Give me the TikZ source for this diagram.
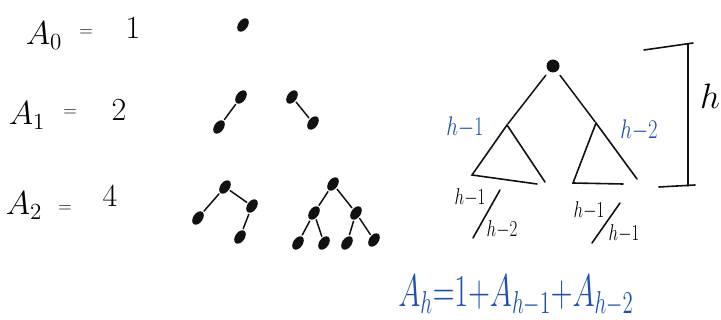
\documentclass[tikz,border=0pt]{standalone}
\usetikzlibrary{positioning,shapes.geometric}
\definecolor{ink}{HTML}{111111}
\definecolor{pen}{HTML}{1D4FB2}
\tikzset{dot/.style={ellipse,fill=ink,inner sep=0pt,minimum width=15pt,minimum height=9.5pt,rotate=55},
  link/.style={draw=ink,line width=1.5pt,line cap=round,shorten <=1.5pt,shorten >=1.5pt},
  stroke/.style={draw=ink,line width=1.6pt,line cap=round},
  big/.style={font=\huge,scale=1.6,inner sep=0pt,anchor=base},
  num/.style={font=\huge,scale=1.55,inner sep=0pt},
  mid/.style={font=\huge,xscale=1.0,yscale=1.3,inner sep=0pt},
  eqs/.style={font=\huge,scale=.9,inner sep=0pt},
  small/.style={font=\huge,xscale=.82,yscale=1.1,inner sep=0pt},
  blue/.style={text=pen}}

\begin{document}
\begin{tikzpicture}[x=1pt,y=-1pt]
\useasboundingbox (0,0) rectangle (721,320);
% left column: A_0, A_1, A_2
\node[big] (a0) at (44,45) {$A_0$};
\node[eqs] (e0) at (86,33) {$=$};
\node[num] (v0) at (133,28) {$1$};
\node[big] (a1) at (27,125) {$A_1$};
\node[eqs] (e1) at (70,113) {$=$};
\node[num] (v1) at (119,110) {$2$};
\node[big] (a2) at (24,215) {$A_2$};
\node[eqs] (e2) at (65,209) {$=$};
\node[num] (v2) at (110,196) {$4$};
% small trees
\node[dot] (t0) at (243,25) {};
\node[dot] (p1) at (241,97) {};
\node[dot] (p1l) at (219,127) {};
\node[dot] (q1) at (292,97) {};
\node[dot] (q1r) at (313,123) {};
\draw[link] (p1)--(p1l);\draw[link] (q1)--(q1r);
\node[dot] (p2) at (225,187) {};
\node[dot] (p2l) at (198,218) {};
\node[dot] (p2r) at (252,206) {};
\node[dot] (p2rl) at (240,237) {};
\draw[link] (p2)--(p2l);\draw[link] (p2)--(p2r);\draw[link] (p2r)--(p2rl);
\node[dot] (q2) at (333,184) {};
\node[dot] (q2l) at (314,213) {};
\node[dot] (q2r) at (356,213) {};
\node[dot] (q2ll) at (298,243) {};
\node[dot] (q2lr) at (324,243) {};
\node[dot] (q2rl) at (347,243) {};
\node[dot] (q2rr) at (374,240) {};
\draw[link] (q2)--(q2l);\draw[link] (q2)--(q2r);
\draw[link] (q2l)--(q2ll);\draw[link] (q2l)--(q2lr);
\draw[link] (q2r)--(q2rl);\draw[link] (q2r)--(q2rr);
% general tree
\node[circle,fill=ink,inner sep=0pt,minimum size=13pt] (root) at (553,66) {};
\coordinate (la) at (507,125);\coordinate (ll) at (472,175);\coordinate (lr) at (545,182);
\coordinate (ra) at (596,123);\coordinate (rl) at (573,183);\coordinate (rr) at (637,179);
\draw[link,shorten <=5pt] (root)--(la);\draw[link,shorten <=5pt] (root)--(ra);
\draw[stroke] (lr)--(la)--(ll)--(537,184);
\draw[stroke] (rr)--(ra)--(rl)--(623,184);
\node[mid,blue] (hl) at (465,127) {$h{-}1$};
\node[mid,blue] (hr) at (639,130) {$h{-}2$};
% subtree heights
\node[small] (l1) at (470,198) {$h{-}1$};
\node[small] (l2) at (502,230) {$h{-}2$};
\draw[stroke] (500,190)--(473,238);
\node[small] (r1) at (589,211) {$h{-}1$};
\node[small] (r2) at (624,234) {$h{-}1$};
\draw[stroke] (620,203)--(592,243);
% height bracket
\draw[stroke] (644,50)--(693,43) (688,44)--(688,186) (659,187)--(695,185);
\node[font=\huge,scale=1.7,inner sep=0pt] (hh) at (710,96) {$h$};
% recurrence
\node[font=\huge,xscale=1.45,yscale=2.2,inner sep=0pt,blue,anchor=base west] (rec) at (398,307) {$A_h{=}1{+}A_{h-1}{+}A_{h-2}$};
\end{tikzpicture}
\end{document}
